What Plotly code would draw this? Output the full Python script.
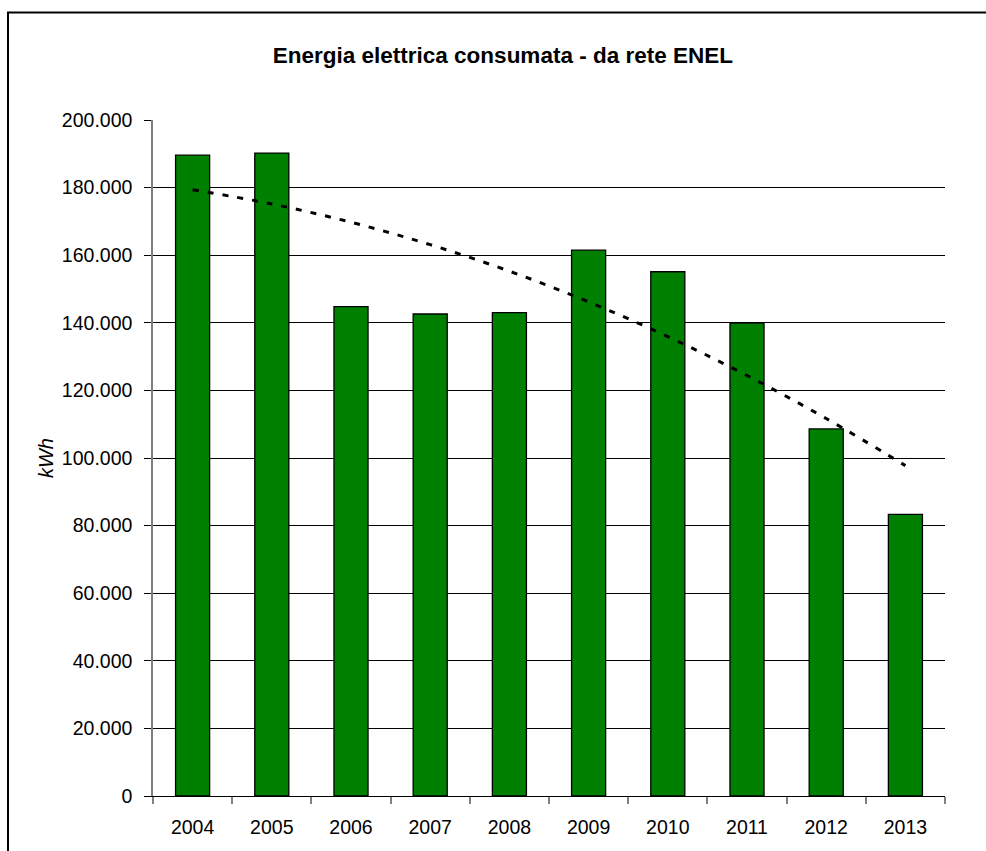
import numpy as np
import plotly.graph_objects as go

# Annual electricity drawn from the ENEL grid (kWh)
years = ["2004", "2005", "2006", "2007", "2008", "2009", "2010", "2011", "2012", "2013"]
consumption_kwh = [189600, 190200, 144800, 142600, 143000, 161500, 155100, 139900, 108600, 83300]

# Order-2 polynomial trendline fitted to the yearly values
idx = np.arange(len(years))
coeffs = np.polyfit(idx, consumption_kwh, 2)
trend = np.polyval(coeffs, idx)

FONT = "Liberation Sans, Arial, sans-serif"

fig = go.Figure()
fig.add_trace(go.Bar(
    x=years, y=consumption_kwh,
    marker=dict(color="#008000", line=dict(color="#000000", width=1.3)),
    hoverinfo="x+y", showlegend=False,
))
fig.add_trace(go.Scatter(
    x=years, y=trend, mode="lines",
    line=dict(color="#000000", width=3, dash="6px,9px", shape="spline"),
    hoverinfo="skip", showlegend=False,
))

fig.update_layout(
    width=986, height=851,
    margin=dict(l=153, r=41, t=120, b=55),
    paper_bgcolor="white", plot_bgcolor="white",
    separators=",.",
    bargap=0.57,
    font=dict(family=FONT, size=19, color="#000000"),
    title=dict(
        text="<b>Energia elettrica consumata - da rete ENEL</b>",
        x=0.51, xref="container", xanchor="center",
        y=1 - 55 / 851, yref="container", yanchor="middle",
        font=dict(family=FONT, size=22.5, color="#000000"),
    ),
    xaxis=dict(
        type="category", tickson="boundaries",
        ticks="outside", ticklen=7, tickcolor="#808080", tickwidth=1.5,
        showline=True, linecolor="#000000", linewidth=1.3,
        showgrid=False, ticklabelstandoff=13,
        tickfont=dict(family=FONT, size=19.5),
    ),
    yaxis=dict(
        range=[0, 200000], tickvals=list(range(0, 200001, 20000)),
        tickformat=",d",
        ticks="outside", ticklen=7, tickcolor="#000000", tickwidth=1,
        showline=True, linecolor="#808080", linewidth=1.5,
        showgrid=True, gridcolor="#000000", gridwidth=1,
        zeroline=False, ticklabelstandoff=8,
        tickfont=dict(family=FONT, size=19.5),
        title=dict(text="<i>kWh</i>", standoff=3, font=dict(family=FONT, size=20)),
    ),
    shapes=[dict(
        type="rect", xref="paper", yref="paper",
        x0=(8 - 153) / 792, x1=(1000 - 153) / 792,
        y0=(796 - 880) / 676, y1=(796 - 12.5) / 676,
        line=dict(color="#000000", width=2), fillcolor="rgba(0,0,0,0)", layer="below",
    )],
)

fig.write_html("out.html")
